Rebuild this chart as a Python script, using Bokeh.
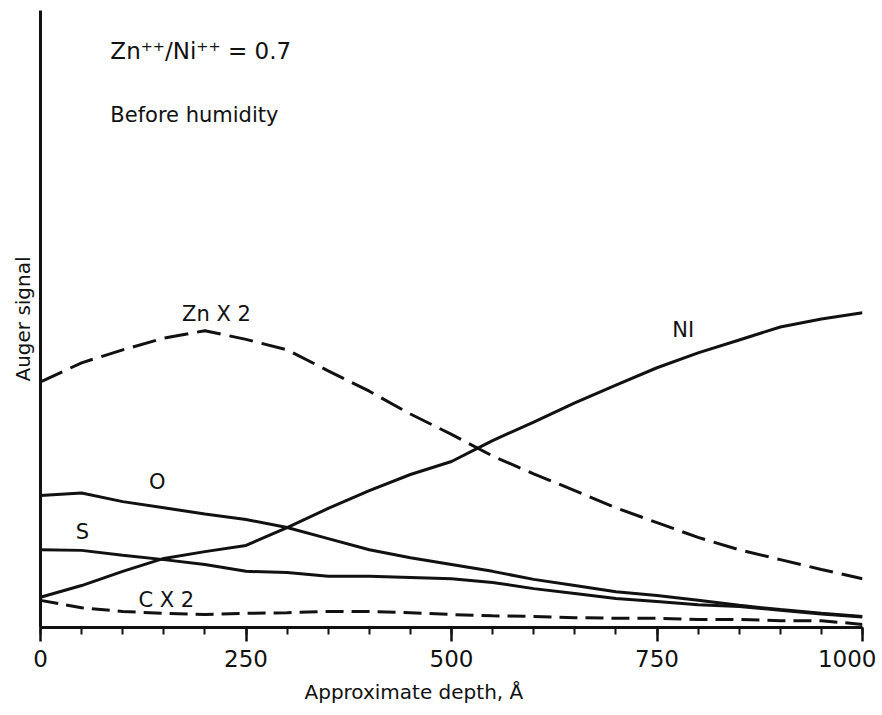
from bokeh.plotting import figure
from bokeh.models import Range1d, FixedTicker, Label, Title
from bokeh.embed import file_html
from bokeh.resources import INLINE

# ---- data ----
depth = [0, 50, 100, 150, 200, 250, 300, 350, 400, 450, 500,
         550, 600, 650, 700, 750, 800, 850, 900, 950, 1000]
ni = [4.9, 6.8, 9.1, 11.2, 12.3, 13.3, 16.2, 19.3, 22.2, 24.8, 26.9,
      30.3, 33.3, 36.4, 39.3, 42.1, 44.5, 46.6, 48.7, 50.0, 51.0]
zn_x2 = [39.8, 42.9, 45.0, 46.9, 48.1, 46.7, 45.0, 41.6, 38.3, 34.6, 31.3,
         27.8, 24.9, 22.2, 19.4, 17.0, 14.6, 12.6, 11.0, 9.4, 7.9]
o = [21.4, 21.8, 20.4, 19.4, 18.4, 17.5, 16.2, 14.4, 12.6, 11.3, 10.2,
     9.1, 7.8, 6.8, 5.8, 5.2, 4.4, 3.6, 2.9, 2.3, 1.8]
s = [12.6, 12.5, 11.7, 11.0, 10.2, 9.1, 8.9, 8.3, 8.3, 8.1, 7.9,
     7.3, 6.3, 5.5, 4.7, 4.2, 3.7, 3.4, 2.8, 2.2, 1.7]
c_x2 = [4.4, 3.2, 2.6, 2.3, 2.1, 2.3, 2.4, 2.6, 2.6, 2.4, 2.1,
        1.9, 1.8, 1.6, 1.5, 1.5, 1.3, 1.3, 1.1, 1.1, 0.5]
x_ticks = [0, 250, 500, 750, 1000]
x_minor_ticks = [0, 50, 100, 150, 200, 250, 300, 350, 400, 450, 500,
                 550, 600, 650, 700, 750, 800, 850, 900, 950, 1000]

FONT = "DejaVu Sans"
INK = "#111111"

p = figure(width=876, height=712, output_backend="svg", toolbar_location=None,
           x_range=Range1d(0, 1000), y_range=Range1d(0, 100),
           min_border_left=40, min_border_right=14, min_border_top=10,
           min_border_bottom=84)
p.outline_line_color = None
p.grid.visible = False
p.background_fill_color = "white"
p.border_fill_color = "white"

# x axis
xa = p.xaxis[0]
xa.ticker = FixedTicker(ticks=x_ticks, minor_ticks=x_minor_ticks)
xa.axis_line_width = 3
xa.axis_line_color = INK
xa.major_tick_line_width = 2.5
xa.major_tick_line_color = INK
xa.minor_tick_line_width = 2
xa.minor_tick_line_color = INK
xa.major_tick_in = 0
xa.major_tick_out = 14
xa.minor_tick_in = 0
xa.minor_tick_out = 7
xa.major_label_standoff = 8
xa.major_label_text_font = FONT
xa.major_label_text_font_size = "23px"
xa.major_label_text_color = INK

# y axis (no ticks / labels)
ya = p.yaxis[0]
ya.ticker = FixedTicker(ticks=[])
ya.axis_line_width = 3
ya.axis_line_color = INK
ya.major_tick_line_color = None
ya.minor_tick_line_color = None
ya.axis_label = "Auger signal"
ya.axis_label_text_font = FONT
ya.axis_label_text_font_size = "20px"
ya.axis_label_text_font_style = "normal"
ya.axis_label_text_color = INK
ya.axis_label_standoff = 6

# x axis title, placed left of centre like the reference
xt = Title(text="Approximate depth, \u00c5", align="left", offset=264,
           text_font=FONT, text_font_size="20px", text_font_style="normal",
           text_color=INK, standoff=17)
p.add_layout(xt, "below")

# curves
p.line(depth, ni, line_width=3, color=INK)
p.line(depth, o, line_width=3, color=INK)
p.line(depth, s, line_width=3, color=INK)
p.line(depth, zn_x2, line_width=3, color=INK, line_dash="24 9")
p.line(depth, c_x2, line_width=3, color=INK, line_dash="18 8")

def lab(x, y, text, size="21px", align="left"):
    p.add_layout(Label(x=x, y=y, text=text, text_font=FONT, text_font_size=size,
                       text_color=INK, text_align=align,
                       text_baseline="alphabetic"))

lab(85, 93.5, "Zn\u207a\u207a/Ni\u207a\u207a = 0.7", size="23px")
lab(85, 83.0, "Before humidity")
lab(214, 50.8, "Zn X 2", align="center")
lab(782, 48.2, "NI", align="center")
lab(142, 23.6, "O", align="center")
lab(51, 15.5, "S", align="center")
lab(153, 4.5, "C X 2", align="center")

open("out.html", "w").write(file_html(p, INLINE))
